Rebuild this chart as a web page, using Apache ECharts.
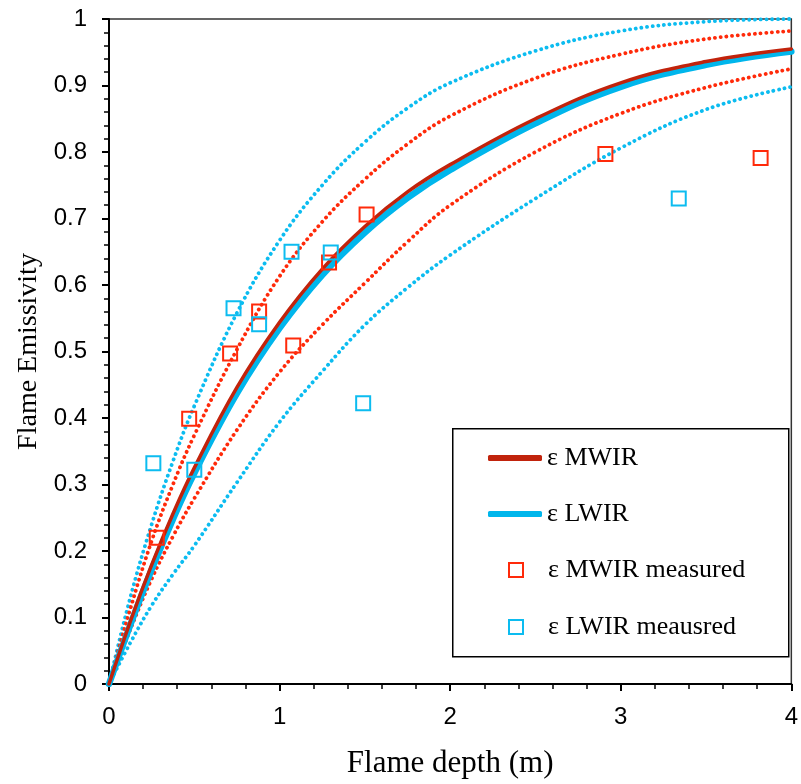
<!DOCTYPE html>
<html>
<head>
<meta charset="utf-8">
<script src="https://cdn.jsdelivr.net/npm/echarts@6/dist/echarts.min.js"></script>
<style>html,body{margin:0;padding:0;background:#fff;}#c{width:801px;height:784px;}</style>
</head>
<body>
<div id="c"></div>
<script>
// Flame depth (m) sample positions for the model curves
const depth      = [0, 0.125, 0.25, 0.375, 0.5, 0.75, 1, 1.25, 1.5, 1.75, 2, 2.5, 3, 3.5, 4];
const mwir       = [0, 0.094, 0.179, 0.256, 0.325, 0.446, 0.544, 0.624, 0.688, 0.740, 0.781, 0.850, 0.904, 0.936, 0.955];
const lwir       = [0, 0.089, 0.172, 0.248, 0.317, 0.437, 0.535, 0.615, 0.679, 0.731, 0.773, 0.843, 0.898, 0.931, 0.951];
const mwirUpper  = [0, 0.113, 0.215, 0.300, 0.374, 0.503, 0.613, 0.695, 0.759, 0.812, 0.854, 0.911, 0.947, 0.970, 0.982];
const mwirLower  = [0, 0.082, 0.158, 0.222, 0.279, 0.382, 0.469, 0.540, 0.603, 0.665, 0.720, 0.800, 0.858, 0.897, 0.925];
const lwirUpper  = [0, 0.130, 0.240, 0.335, 0.418, 0.558, 0.667, 0.750, 0.815, 0.866, 0.904, 0.952, 0.982, 0.996, 1.0];
const lwirLower  = [0, 0.062, 0.118, 0.165, 0.208, 0.303, 0.394, 0.470, 0.540, 0.596, 0.645, 0.730, 0.806, 0.864, 0.898];
// measured points
const mwirMeasDepth = [0.28, 0.47, 0.71, 0.88, 1.08, 1.29, 1.51, 2.91, 3.82];
const mwirMeasEps   = [0.220, 0.399, 0.497, 0.560, 0.509, 0.634, 0.706, 0.797, 0.791];
const lwirMeasDepth = [0.26, 0.50, 0.73, 0.88, 1.07, 1.30, 1.49, 3.34];
const lwirMeasEps   = [0.332, 0.322, 0.565, 0.541, 0.650, 0.649, 0.422, 0.730];
// labels
const xName = 'Flame depth (m)';
const yName = 'Flame Emissivity';
const names = ['ε MWIR', 'ε LWIR', 'ε MWIR measured', 'ε LWIR meausred'];

const C_RED_DARK = '#c1230c';
const C_RED = '#ff2a0a';
const C_CYAN = '#00b6ec';
const C_CYAN_DOT = '#0cbcf0';

const pairs = (xs, ys) => xs.map((x, i) => [x, ys[i]]);
const dotted = (ys, color) => ({
  type: 'line', data: pairs(depth, ys), symbol: 'none', smooth: 0.4, silent: true,
  lineStyle: { color: color, width: 3.8, type: [0.1, 5.6], cap: 'round' }, z: 2
});

const chart = echarts.init(document.getElementById('c'), null, { renderer: 'canvas' });
const serifFont = 'Liberation Serif';
const sansFont = 'Liberation Sans';
const legText = (pad) => ({ fontFamily: serifFont, fontSize: 26, color: '#000', lineHeight: 28, padding: [0, 0, 0, pad] });
const legBase = (name, left, top, extra) => Object.assign({
  data: [name], left: left, top: top, orient: 'vertical', padding: 0,
  selectedMode: false, textStyle: legText(0)
}, extra);

chart.setOption({
  animation: false,
  backgroundColor: '#fff',
  grid: { left: 109, right: 8, top: 19, bottom: 98, show: true, borderColor: '#333', borderWidth: 1.5 },
  xAxis: {
    type: 'value', min: 0, max: 4, interval: 1,
    name: xName, nameLocation: 'middle', nameGap: 64,
    nameTextStyle: { fontFamily: serifFont, fontSize: 31, color: '#000' },
    axisLine: { show: true, lineStyle: { color: '#000', width: 2 } },
    axisTick: { show: true, inside: false, length: 7, lineStyle: { color: '#000', width: 2 } },
    minorTick: { show: true, splitNumber: 5, length: 5, lineStyle: { color: '#000', width: 1.5 } },
    axisLabel: { fontFamily: sansFont, fontSize: 24, color: '#000', margin: 21 },
    splitLine: { show: false }
  },
  yAxis: {
    type: 'value', min: 0, max: 1, interval: 0.1,
    name: yName, nameLocation: 'middle', nameGap: 66, nameRotate: 90,
    nameTextStyle: { fontFamily: serifFont, fontSize: 28, color: '#000' },
    axisLine: { show: true, lineStyle: { color: '#000', width: 2 } },
    axisTick: { show: true, inside: false, length: 7, lineStyle: { color: '#000', width: 2 } },
    minorTick: { show: true, splitNumber: 5, length: 5, lineStyle: { color: '#000', width: 1.5 } },
    axisLabel: { fontFamily: sansFont, fontSize: 24, color: '#000', margin: 22 },
    splitLine: { show: false }
  },
  legend: [
    legBase(names[0], 488, 444, { itemWidth: 54, itemHeight: 6, icon: 'roundRect', itemStyle: { color: C_RED_DARK, borderWidth: 0 } }),
    legBase(names[1], 488, 500, { itemWidth: 54, itemHeight: 6, icon: 'roundRect', itemStyle: { color: C_CYAN, borderWidth: 0 } }),
    legBase(names[2], 508, 556, { itemWidth: 14, itemHeight: 14, icon: 'rect', itemStyle: { color: 'rgba(0,0,0,0)', borderColor: C_RED, borderWidth: 2 }, textStyle: legText(20) }),
    legBase(names[3], 508, 613, { itemWidth: 14, itemHeight: 14, icon: 'rect', itemStyle: { color: 'rgba(0,0,0,0)', borderColor: C_CYAN_DOT, borderWidth: 2 }, textStyle: legText(20) })
  ],
  graphic: [{
    type: 'rect', left: 452, top: 428, z: 100,
    shape: { width: 336, height: 228 },
    style: { fill: 'rgba(0,0,0,0)', stroke: '#000', lineWidth: 1.5 }
  }],
  series: [
    dotted(lwirUpper, C_CYAN_DOT),
    dotted(lwirLower, C_CYAN_DOT),
    dotted(mwirUpper, C_RED),
    dotted(mwirLower, C_RED),
    { name: names[1], type: 'line', data: pairs(depth, lwir), symbol: 'none', smooth: 0.4,
      lineStyle: { color: C_CYAN, width: 6.5, cap: 'round' }, itemStyle: { color: C_CYAN }, z: 3 },
    { name: names[0], type: 'line', data: pairs(depth, mwir), symbol: 'none', smooth: 0.4,
      lineStyle: { color: C_RED_DARK, width: 3.5, cap: 'round' }, itemStyle: { color: C_RED_DARK }, z: 4 },
    { name: names[2], type: 'scatter', data: pairs(mwirMeasDepth, mwirMeasEps), symbol: 'rect', symbolSize: 14,
      itemStyle: { color: 'rgba(0,0,0,0)', borderColor: C_RED, borderWidth: 2, opacity: 1 }, z: 5 },
    { name: names[3], type: 'scatter', data: pairs(lwirMeasDepth, lwirMeasEps), symbol: 'rect', symbolSize: 14,
      itemStyle: { color: 'rgba(0,0,0,0)', borderColor: C_CYAN_DOT, borderWidth: 2, opacity: 1 }, z: 5 }
  ]
});
</script>
</body>
</html>
